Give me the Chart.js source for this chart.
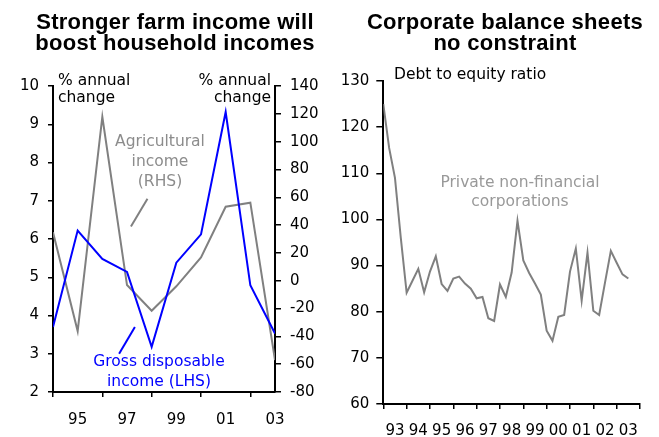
<!DOCTYPE html>
<html>
<head>
<meta charset="utf-8">
<script src="https://cdn.jsdelivr.net/npm/chart.js@4.4.1/dist/chart.umd.min.js"></script>
<style>
html, body { margin: 0; padding: 0; background: #fff; width: 659px; height: 437px; overflow: hidden; }
.panel { position: absolute; top: 0; height: 437px; }
.title { position: absolute; top: 11px; width: 330px; text-align: center; color: #000; letter-spacing: 0.3px;
         font: bold 22px "Liberation Sans", Arial, sans-serif; line-height: 21px; white-space: nowrap; }
</style>
</head>
<body>
<div class="panel" style="left:0;width:330px"><canvas id="farmChart" width="330" height="437"></canvas></div>
<div class="panel" style="left:330px;width:329px"><canvas id="debtChart" width="329" height="437"></canvas></div>
<div class="title" style="left:10px">Stronger farm income will<br>boost household incomes</div>
<div class="title" style="left:340px">Corporate balance sheets<br>no constraint</div>

<script>
// Left panel: annual % changes, 1994-2003
const farmYears = [1994, 1995, 1996, 1997, 1998, 1999, 2000, 2001, 2002, 2003];
const disposableIncome = [3.7, 6.22, 5.48, 5.14, 3.18, 5.38, 6.12, 9.32, 4.79, 3.53];
const agriculturalIncome = [34.8, -36.2, 117.9, -3.1, -21.6, -4, 16.8, 53.2, 56.1, -57];
const farmTickYears = [1995, 1997, 1999, 2001, 2003];
const farmTickLabels = ['95', '97', '99', '01', '03'];

// Right panel: quarterly debt to equity ratio from 1993 Q1
const debtStartYear = 1993;
const debtRatio = [
  125.0, 115.5, 109.0, 96.0,
  84.1, 86.7, 89.3, 84.2,
  88.7, 92.0, 86.0, 84.5,
  87.2, 87.6, 86.1, 85.0,
  82.9, 83.2, 78.6, 78.0,
  85.9, 83.2, 88.5, 99.7,
  91.1, 88.4, 86.1, 83.7,
  75.9, 73.7, 78.9, 79.3,
  88.7, 93.7, 82.4, 92.8,
  80.2, 79.3, 86.3, 93.2,
  90.6, 88.1, 87.2
];
const debtTickYears = [1993, 1994, 1995, 1996, 1997, 1998, 1999, 2000, 2001, 2002, 2003];
const debtTickLabels = ['93', '94', '95', '96', '97', '98', '99', '00', '01', '02', '03'];

const tickFont = { family: '"DejaVu Sans", Verdana, sans-serif', size: 15 };
const noteFont = '15.5px "DejaVu Sans", Verdana, sans-serif';

// free text drawn on top of the chart
const notesPlugin = {
  id: 'notes',
  afterDraw(chart, args, opts) {
    const ctx = chart.ctx;
    ctx.save();
    ctx.font = noteFont;
    ctx.textBaseline = 'middle';
    opts.items.forEach(t => {
      ctx.fillStyle = t.color;
      ctx.textAlign = t.align;
      ctx.fillText(t.text, t.x, t.y);
    });
    ctx.restore();
  }
};

function sideAxis(pos, min, max, step, width, tickLen, pad) {
  return {
    type: 'linear', position: pos, min: min, max: max,
    afterFit: s => { s.width = width; },
    border: { display: true, color: '#000', width: 2 },
    grid: { drawOnChartArea: false, drawTicks: true, tickLength: tickLen, color: '#000', lineWidth: 1.5 },
    ticks: { stepSize: step, color: '#000', font: tickFont, padding: pad }
  };
}

new Chart(document.getElementById('farmChart'), {
  type: 'line',
  data: {
    datasets: [
      {
        data: farmYears.map((x, i) => ({ x: x, y: disposableIncome[i] })),
        yAxisID: 'y', borderColor: '#0000ff', borderWidth: 2
      },
      {
        data: farmYears.map((x, i) => ({ x: x, y: agriculturalIncome[i] })),
        yAxisID: 'y2', borderColor: '#808080', borderWidth: 2
      },
      // pointer lines from the labels to the series
      {
        data: [{ x: 1997.16, y: 39 }, { x: 1997.83, y: 59 }],
        yAxisID: 'y2', borderColor: '#808080', borderWidth: 2
      },
      {
        data: [{ x: 1996.68, y: 3.0 }, { x: 1997.32, y: 3.7 }],
        yAxisID: 'y', borderColor: '#0000ff', borderWidth: 2
      }
    ]
  },
  options: {
    responsive: false,
    animation: false,
    layout: { padding: { top: 86, left: 0, right: 0, bottom: 0 } },
    elements: { point: { radius: 0 }, line: { tension: 0 } },
    plugins: {
      legend: { display: false },
      tooltip: { enabled: false },
      notes: {
        items: [
          { text: '% annual', x: 58, y: 81, align: 'left', color: '#000' },
          { text: 'change', x: 58, y: 98, align: 'left', color: '#000' },
          { text: '% annual', x: 271, y: 81, align: 'right', color: '#000' },
          { text: 'change', x: 271, y: 98, align: 'right', color: '#000' },
          { text: 'Agricultural', x: 160, y: 142, align: 'center', color: '#8c8c8c' },
          { text: 'income', x: 160, y: 162, align: 'center', color: '#8c8c8c' },
          { text: '(RHS)', x: 160, y: 182, align: 'center', color: '#8c8c8c' },
          { text: 'Gross disposable', x: 159, y: 362, align: 'center', color: '#0000ff' },
          { text: 'income (LHS)', x: 159, y: 382, align: 'center', color: '#0000ff' }
        ]
      }
    },
    scales: {
      x: {
        type: 'linear', min: 1994, max: 2003,
        afterFit: s => { s.height = 45; },
        afterBuildTicks: s => { s.ticks = farmYears.map(v => ({ value: v })); },
        border: { display: true, color: '#000', width: 2 },
        grid: {
          drawOnChartArea: false, drawTicks: true, tickLength: 5, lineWidth: 1.5,
          color: c => (c.tick && c.tick.value % 2 === 0) ? '#000' : 'rgba(0,0,0,0)'
        },
        ticks: {
          autoSkip: false, maxRotation: 0, color: '#000', font: tickFont, padding: 14,
          callback: v => {
            const k = farmTickYears.indexOf(v);
            return k >= 0 ? farmTickLabels[k] : '';
          }
        }
      },
      y: sideAxis('left', 2, 10, 1, 53, 5, 9),
      y2: sideAxis('right', -80, 140, 20, 55, 6, 9)
    }
  },
  plugins: [notesPlugin]
});

new Chart(document.getElementById('debtChart'), {
  type: 'line',
  data: {
    datasets: [{
      data: debtRatio.map((v, i) => ({ x: debtStartYear + i / 4, y: v })),
      borderColor: '#808080', borderWidth: 2
    }]
  },
  options: {
    responsive: false,
    animation: false,
    layout: { padding: { top: 81, left: 0, right: 19, bottom: 0 } },
    elements: { point: { radius: 0 }, line: { tension: 0 } },
    plugins: {
      legend: { display: false },
      tooltip: { enabled: false },
      notes: {
        items: [
          { text: 'Debt to equity ratio', x: 64, y: 75, align: 'left', color: '#000' },
          { text: 'Private non-financial', x: 190, y: 183, align: 'center', color: '#999999' },
          { text: 'corporations', x: 190, y: 202, align: 'center', color: '#999999' }
        ]
      }
    },
    scales: {
      x: {
        type: 'linear', min: 1993, max: 2004,
        afterFit: s => { s.height = 33; },
        afterBuildTicks: s => {
          const t = [];
          debtTickYears.forEach(y => { t.push({ value: y }); t.push({ value: y + 0.5 }); });
          t.push({ value: 2004 });
          s.ticks = t;
        },
        border: { display: true, color: '#000', width: 2 },
        grid: {
          drawOnChartArea: false, drawTicks: true, tickLength: 5, lineWidth: 1.5,
          color: c => (c.tick && Number.isInteger(c.tick.value)) ? '#000' : 'rgba(0,0,0,0)'
        },
        ticks: {
          autoSkip: false, maxRotation: 0, color: '#000', font: tickFont, padding: 13,
          callback: v => {
            const k = debtTickYears.indexOf(v - 0.5);
            return k >= 0 ? debtTickLabels[k] : '';
          }
        }
      },
      y: sideAxis('left', 60, 130, 10, 53.3, 7, 7)
    }
  },
  plugins: [notesPlugin]
});
</script>
</body>
</html>
